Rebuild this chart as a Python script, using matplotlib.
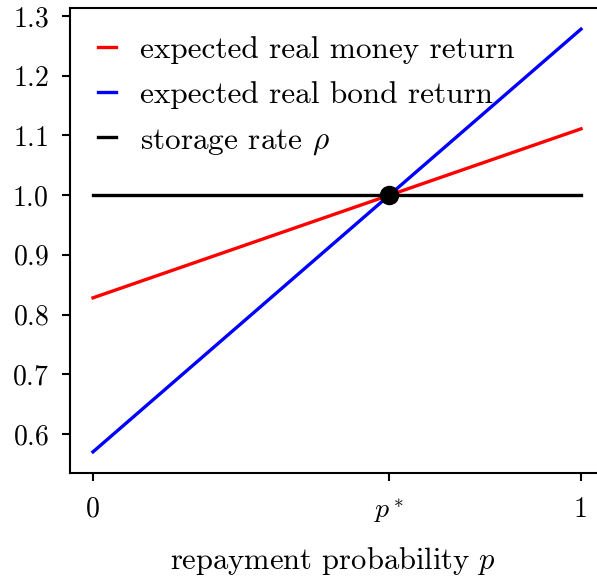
import numpy as np
import matplotlib
matplotlib.use("Agg")
import matplotlib.pyplot as plt

plt.rcParams['font.family'] = 'serif'
plt.rcParams['font.serif'] = ['cmr10']
plt.rcParams['mathtext.fontset'] = 'cm'
plt.rcParams['axes.unicode_minus'] = False
plt.rcParams['axes.formatter.use_mathtext'] = True

p = [0.0, 1.0]
money_return = [0.828, 1.111]
bond_return = [0.570, 1.278]
storage_rate = [1.0, 1.0]
p_star = (1.0 - bond_return[0]) / (bond_return[1] - bond_return[0])
xtick_labels = ['0', '$p^*$', '1']
series_labels = ['expected real money return', 'expected real bond return', r'storage rate $\rho$']

fig = plt.figure(figsize=(5.97, 5.76), dpi=100)
left_px, right_px, top_px, bot_px = 69.6, 612.0, 8.0, 473.0
ax = fig.add_axes([left_px/597, 1 - bot_px/576, (right_px-left_px)/597, (bot_px-top_px)/576])

ax.plot(p, money_return, color='red', lw=2.4, label=series_labels[0])
ax.plot(p, bond_return, color='blue', lw=2.4, label=series_labels[1])
ax.plot(p, storage_rate, color='black', lw=2.4, label=series_labels[2])
ax.plot([p_star], [1.0], 'o', color='black', markersize=13, zorder=5)

x0_px, x1_px = 93.0, 581.0
ax.set_xlim((left_px - x0_px)/(x1_px - x0_px), (right_px - x0_px)/(x1_px - x0_px))
ax.set_xticks([0, p_star, 1])
ax.set_xticklabels(xtick_labels)
ax.set_yticks([0.6, 0.7, 0.8, 0.9, 1.0, 1.1, 1.2, 1.3])
ax.tick_params(labelsize=20, width=1.5, length=6)
ax.tick_params(axis='x', pad=11)
ax.tick_params(axis='y', pad=9)
ax.set_xlabel('repayment probability $p$', fontsize=22, labelpad=12)
ax.xaxis.set_label_coords((332.5 - left_px)/(right_px - left_px), -0.155)
for s in ax.spines.values():
    s.set_linewidth(1.5)

leg = ax.legend(loc='upper left', frameon=False, fontsize=22.5, handlelength=0.6,
                handletextpad=0.75, borderaxespad=0.5, labelspacing=0.55)

fig.savefig('out.png', dpi=100)
